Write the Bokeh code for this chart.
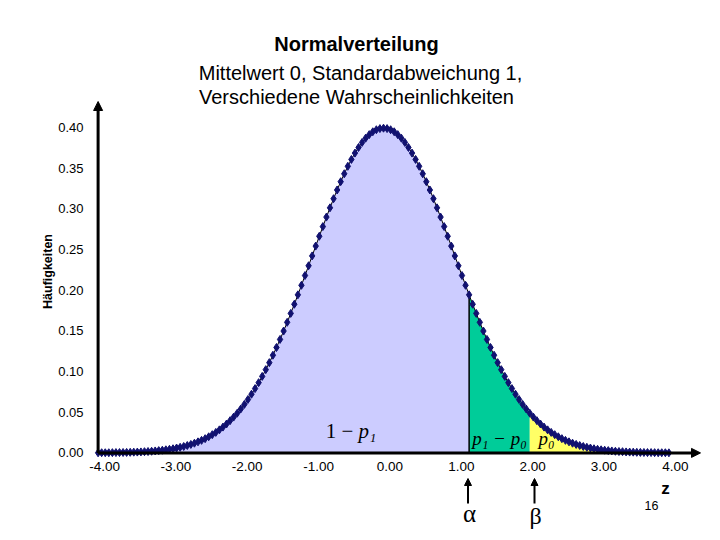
import numpy as np
from bokeh.plotting import figure
from bokeh.models import Range1d, Arrow, NormalHead, Label
from bokeh.core.properties import value
from bokeh.embed import file_html
from bokeh.resources import INLINE

# ---------------- data ----------------
z_werte = [
    -4.00, -3.95, -3.90, -3.85, -3.80, -3.75, -3.70, -3.65, -3.60, -3.55,
    -3.50, -3.45, -3.40, -3.35, -3.30, -3.25, -3.20, -3.15, -3.10, -3.05,
    -3.00, -2.95, -2.90, -2.85, -2.80, -2.75, -2.70, -2.65, -2.60, -2.55,
    -2.50, -2.45, -2.40, -2.35, -2.30, -2.25, -2.20, -2.15, -2.10, -2.05,
    -2.00, -1.95, -1.90, -1.85, -1.80, -1.75, -1.70, -1.65, -1.60, -1.55,
    -1.50, -1.45, -1.40, -1.35, -1.30, -1.25, -1.20, -1.15, -1.10, -1.05,
    -1.00, -0.95, -0.90, -0.85, -0.80, -0.75, -0.70, -0.65, -0.60, -0.55,
    -0.50, -0.45, -0.40, -0.35, -0.30, -0.25, -0.20, -0.15, -0.10, -0.05,
    0.00,
    0.05, 0.10, 0.15, 0.20, 0.25, 0.30, 0.35, 0.40, 0.45, 0.50,
    0.55, 0.60, 0.65, 0.70, 0.75, 0.80, 0.85, 0.90, 0.95, 1.00,
    1.05, 1.10, 1.15, 1.20, 1.25, 1.30, 1.35, 1.40, 1.45, 1.50,
    1.55, 1.60, 1.65, 1.70, 1.75, 1.80, 1.85, 1.90, 1.95, 2.00,
    2.05, 2.10, 2.15, 2.20, 2.25, 2.30, 2.35, 2.40, 2.45, 2.50,
    2.55, 2.60, 2.65, 2.70, 2.75, 2.80, 2.85, 2.90, 2.95, 3.00,
    3.05, 3.10, 3.15, 3.20, 3.25, 3.30, 3.35, 3.40, 3.45, 3.50,
    3.55, 3.60, 3.65, 3.70, 3.75, 3.80, 3.85, 3.90, 3.95, 4.00,
]
dichte = [
    0.0001, 0.0002, 0.0002, 0.0002, 0.0003, 0.0004, 0.0004, 0.0005, 0.0006, 0.0007,
    0.0009, 0.0010, 0.0012, 0.0015, 0.0017, 0.0020, 0.0024, 0.0028, 0.0033, 0.0038,
    0.0044, 0.0051, 0.0060, 0.0069, 0.0079, 0.0091, 0.0104, 0.0119, 0.0136, 0.0154,
    0.0175, 0.0198, 0.0224, 0.0252, 0.0283, 0.0317, 0.0355, 0.0396, 0.0440, 0.0488,
    0.0540, 0.0596, 0.0656, 0.0721, 0.0790, 0.0863, 0.0940, 0.1023, 0.1109, 0.1200,
    0.1295, 0.1394, 0.1497, 0.1604, 0.1714, 0.1826, 0.1942, 0.2059, 0.2179, 0.2299,
    0.2420, 0.2541, 0.2661, 0.2780, 0.2897, 0.3011, 0.3123, 0.3230, 0.3332, 0.3429,
    0.3521, 0.3605, 0.3683, 0.3752, 0.3814, 0.3867, 0.3910, 0.3945, 0.3970, 0.3984,
    0.3989,
    0.3984, 0.3970, 0.3945, 0.3910, 0.3867, 0.3814, 0.3752, 0.3683, 0.3605, 0.3521,
    0.3429, 0.3332, 0.3230, 0.3123, 0.3011, 0.2897, 0.2780, 0.2661, 0.2541, 0.2420,
    0.2299, 0.2179, 0.2059, 0.1942, 0.1826, 0.1714, 0.1604, 0.1497, 0.1394, 0.1295,
    0.1200, 0.1109, 0.1023, 0.0940, 0.0863, 0.0790, 0.0721, 0.0656, 0.0596, 0.0540,
    0.0488, 0.0440, 0.0396, 0.0355, 0.0317, 0.0283, 0.0252, 0.0224, 0.0198, 0.0175,
    0.0154, 0.0136, 0.0119, 0.0104, 0.0091, 0.0079, 0.0069, 0.0060, 0.0051, 0.0044,
    0.0038, 0.0033, 0.0028, 0.0024, 0.0020, 0.0017, 0.0015, 0.0012, 0.0010, 0.0009,
    0.0007, 0.0006, 0.0005, 0.0004, 0.0004, 0.0003, 0.0002, 0.0002, 0.0002, 0.0001,
]
grenze_alpha = 1.20
grenze_beta = 2.05

x_ticks = [-4, -3, -2, -1, 0, 1, 2, 3, 4]
x_tick_labels = ["-4.00", "-3.00", "-2.00", "-1.00", "0.00", "1.00", "2.00", "3.00", "4.00"]
y_ticks = [0.0, 0.05, 0.10, 0.15, 0.20, 0.25, 0.30, 0.35, 0.40]
y_tick_labels = ["0.00", "0.05", "0.10", "0.15", "0.20", "0.25", "0.30", "0.35", "0.40"]

titel = ["Normalverteilung", "Mittelwert 0, Standardabweichung 1,", "Verschiedene Wahrscheinlichkeiten"]
y_titel = "Häufigkeiten"
x_titel = "z"
seitenzahl = "16"

# ---------------- layout (frame covers the whole canvas) ----------------
W, H = 720, 540
PX0, SX = 383.0, 71.35     # pixel of z = 0, pixels per unit z
PY0, SY = 452.4, 814.0     # pixel of density 0, pixels per unit density


def dx(px):  # pixel -> data x
    return (px - PX0) / SX


def dy(py):  # pixel -> data y
    return (PY0 - py) / SY


FONT = "Liberation Sans"
SERIF = "Liberation Serif"

p = figure(width=W, height=H, output_backend="svg", toolbar_location=None,
           x_range=Range1d(dx(0), dx(W)), y_range=Range1d(dy(H), dy(0)),
           x_axis_location=None, y_axis_location=None, min_border=0)
p.grid.visible = False
p.outline_line_color = None
p.background_fill_color = "white"
p.border_fill_color = "white"

# ---------------- areas ----------------
z = np.array(z_werte)
d = np.array(dichte)
m_blau = z <= grenze_alpha + 1e-9
m_gruen = (z >= grenze_alpha - 1e-9) & (z <= grenze_beta + 1e-9)
m_gelb = z >= grenze_beta - 1e-9
p.varea(x=z[m_blau], y1=0, y2=d[m_blau], fill_color="#CCCCFF")
p.varea(x=z[m_gruen], y1=0, y2=d[m_gruen], fill_color="#00CC99")
p.varea(x=z[m_gelb], y1=0, y2=d[m_gelb], fill_color="#FFFF66")

p.line(z, d, line_color="black", line_width=1)
i_alpha = int(np.argmin(np.abs(z - grenze_alpha)))
p.segment(x0=[grenze_alpha], y0=[0], x1=[grenze_alpha], y1=[d[i_alpha]],
          line_color="black", line_width=1.5)

p.scatter(z, d, marker="diamond", size=8, fill_color="#111170", line_color="#111170")

# ---------------- axes ----------------
p.add_layout(Arrow(end=NormalHead(size=9, fill_color="black", line_color="black"),
                   x_start=-4, y_start=0, x_end=-4, y_end=dy(101),
                   line_color="black", line_width=3))
p.add_layout(Arrow(end=NormalHead(size=9, fill_color="black", line_color="black"),
                   x_start=-4, y_start=0, x_end=dx(700), y_end=0,
                   line_color="black", line_width=3))

# tick labels (x labels sit slightly right of the grid in the original)
x_lab_shift = 0.09
p.text(x=[t + x_lab_shift for t in x_ticks], y=[dy(466)] * len(x_ticks), text=x_tick_labels,
       text_font=value(FONT), text_font_size="13.5px", text_color="black",
       text_align="center", text_baseline="middle")
p.text(x=[dx(83)] * len(y_ticks), y=y_ticks, text=y_tick_labels,
       text_font=value(FONT), text_font_size="13px", text_color="black",
       text_align="right", text_baseline="middle")

# alpha / beta markers
for xp in (467.5, 534):
    p.add_layout(Arrow(end=NormalHead(size=7, fill_color="black", line_color="black"),
                       x_start=dx(xp), y_start=dy(503), x_end=dx(xp), y_end=dy(478),
                       line_color="black", line_width=2))
p.add_layout(Label(x=dx(469), y=dy(513), text="α", text_font=SERIF, text_font_size="25px",
                   text_color="black", text_align="center", text_baseline="middle"))
p.add_layout(Label(x=dx(535), y=dy(515), text="β", text_font=SERIF, text_font_size="24px",
                   text_color="black", text_align="center", text_baseline="middle"))

# ---------------- texts ----------------
for txt, (px, py), bold in zip(titel, [(356, 43), (360, 72), (356, 96)], [True, False, False]):
    p.add_layout(Label(x=dx(px), y=dy(py), text=txt, text_font=FONT, text_font_size="20px",
                       text_font_style="bold" if bold else "normal", text_color="black",
                       text_align="center", text_baseline="middle"))

p.add_layout(Label(x=dx(47), y=dy(271), text=y_titel, angle=np.pi / 2, text_font=FONT,
                   text_font_size="12.5px", text_font_style="bold", text_color="black",
                   text_align="center", text_baseline="middle"))
p.add_layout(Label(x=dx(665), y=dy(488), text=x_titel, text_font=FONT, text_font_size="17px",
                   text_font_style="bold", text_color="black",
                   text_align="center", text_baseline="middle"))
p.add_layout(Label(x=dx(651), y=dy(505), text=seitenzahl, text_font=FONT, text_font_size="12.5px",
                   text_color="black", text_align="center", text_baseline="middle"))

# area labels
p.add_layout(Label(x=dx(358), y=dy(430), text="1 − ", text_font=SERIF, text_font_size="21px",
                   text_color="black", text_align="right", text_baseline="middle"))
p.add_layout(Label(x=dx(358), y=dy(430), text="p₁", text_font=SERIF, text_font_size="21px",
                   text_font_style="italic", text_color="black",
                   text_align="left", text_baseline="middle"))
p.add_layout(Label(x=dx(499), y=dy(438), text="p₁ − p₀", text_font=SERIF, text_font_size="19px",
                   text_font_style="italic", text_color="black",
                   text_align="center", text_baseline="middle"))
p.add_layout(Label(x=dx(546), y=dy(438), text="p₀", text_font=SERIF, text_font_size="19px",
                   text_font_style="italic", text_color="black",
                   text_align="center", text_baseline="middle"))

open("out.html", "w").write(file_html(p, INLINE))
